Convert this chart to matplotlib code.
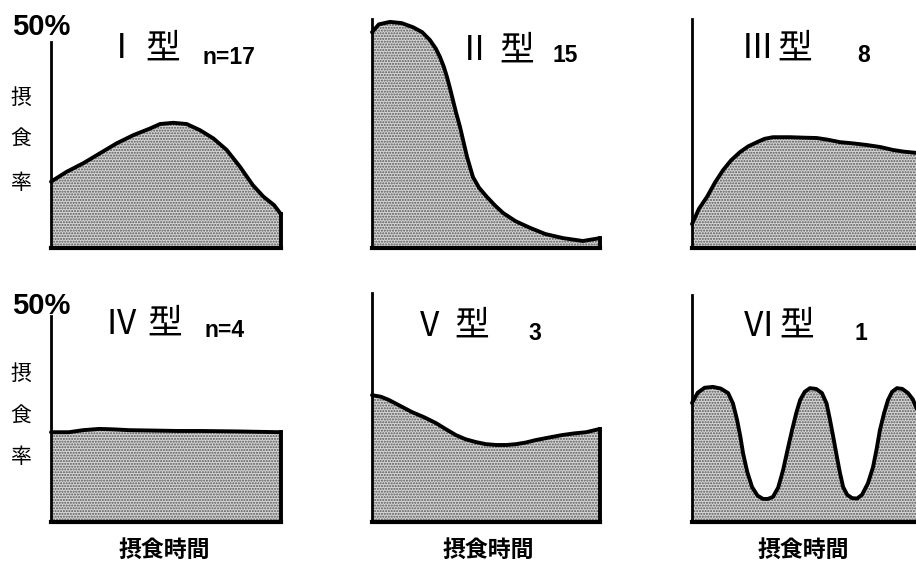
import numpy as np
import matplotlib.pyplot as plt

plt.rcParams['font.family'] = ['Noto Sans CJK JP', 'DejaVu Sans']

# feeding rate (%) over feeding time (0-100 = start to end)
x1 = [0, 6.8, 14.1, 21.3, 28.5, 35.8, 43.0, 47.4, 53.2, 59.0, 64.8, 70.6, 76.4, 82.2, 87.7, 92.3, 97.0, 100]
y1 = [16.1, 18.5, 20.6, 23.0, 25.4, 27.4, 29.0, 30.1, 30.4, 30.1, 28.6, 26.6, 23.8, 19.7, 15.3, 12.5, 10.4, 8.2]

x2 = [0, 3, 7.9, 13, 18.0, 22, 25.4, 28, 29.8, 31.5, 32.9, 34.2, 35.5, 37, 38.6, 40.2,
      41.7, 44.3, 47, 50.4, 54, 57.5, 63, 69.3, 76, 83.8, 92.5, 100]
y2 = [52.4, 54.3, 54.9, 54.6, 53.6, 52.4, 50.5, 48.4, 46.4, 44.0, 41.5, 38.8, 35.9, 32.6,
      29.4, 25.6, 22.1, 17.2, 14.6, 12.4, 10.3, 8.5, 6.5, 4.9, 3.4, 2.4, 1.7, 2.4]

x3 = [0, 3, 6.5, 10, 13.5, 17, 20.9, 24.5, 28.3, 31.5, 35.2, 42.6, 48, 54.3, 59, 64.3, 70, 76.1, 82, 87.4, 92, 97.4, 100]
y3 = [5.8, 9.5, 12.4, 15.9, 18.9, 21.3, 23.3, 24.7, 25.7, 26.5, 26.9, 26.9, 26.8, 26.7, 26.3, 25.7, 25.4, 25.0, 24.5, 23.8, 23.4, 23.1, 22.8]

x4 = [0, 7.8, 14, 20.9, 27, 34, 45, 55, 64.8, 80, 100]
y4 = [21.8, 21.8, 22.3, 22.6, 22.5, 22.3, 22.2, 22.1, 22.1, 22.0, 21.8]

x5 = [0, 4, 7.5, 12, 17.5, 23, 28.1, 32.5, 36.8, 41, 45.6, 50, 54.4, 59, 63.2, 67.5, 71.9, 77.5, 83.3, 88.5, 93.9, 100]
y5 = [30.8, 30.4, 29.6, 28.3, 26.7, 25.4, 24.0, 22.5, 21.1, 20.1, 19.4, 18.9, 18.7, 18.7, 18.9, 19.3, 19.9, 20.5, 21.1, 21.5, 21.8, 22.6]

x6 = [0, 2.5, 5.5, 9.1, 12.5, 15.7, 17.8, 19.6, 21, 22.2, 24, 26.1, 28.5, 30.9, 33, 35.2, 37.5,
      39.6, 41.5, 43.5, 45.3, 47.0, 49, 51.3, 54, 56.5, 58.5, 60.0, 61.5, 63.0, 64.3, 65.7, 67.5,
      69.6, 71.8, 73.9, 76.5, 78.7, 80.3, 81.7, 83.5, 85.2, 87, 89.1, 91.5, 93.9, 96, 97.4, 100]
y6 = [28.9, 31.4, 32.6, 32.8, 32.4, 31.3, 28.8, 24.8, 20.8, 16.7, 12.2, 8.5, 6.4, 5.6, 5.6, 6.1, 8.4,
      12.6, 17.4, 22.3, 26.4, 29.6, 31.6, 32.5, 32.3, 31.3, 28.8, 24.8, 20.4, 15.8, 12.0, 8.5, 6.6,
      5.8, 5.7, 6.6, 9.4, 13.3, 17.8, 22.3, 26.4, 29.6, 31.6, 32.5, 32.3, 31.3, 29.8, 27.9, 24.8]

xs = [x1, x2, x3, x4, x5, x6]
ys = [y1, y2, y3, y4, y5, y6]
numerals = ['Ⅰ', 'Ⅱ', 'Ⅲ', 'Ⅳ', 'Ⅴ', 'Ⅵ']
counts = ['n=17', '15', '8', 'n=4', '3', '1']

W, H = 916, 564
fig = plt.figure(figsize=(W / 100, H / 100), dpi=100)

def fx(px):
    return px / W

def fy(py):
    return 1 - py / H

# axes boxes in pixels: left, bottom (from top), width
boxes = [(51, 248, 230), (372, 248, 228), (692, 248, 230),
         (51, 522, 230), (372, 522, 228), (692, 522, 230)]
spine_top = [50, 55.6, 55.6, 50, 55.6, 55]
ytop = 55.6
ax_h = 229

for i in range(6):
    l, b, w = boxes[i]
    ax = fig.add_axes([fx(l), fy(b), w / W, ax_h / H])
    ax.set_xlim(0, 100)
    ax.set_ylim(0, ytop)
    x = np.array(xs[i])
    y = np.array(ys[i])
    ax.fill_between(x, y, 0, facecolor='#d6d6d6', edgecolor='#555555',
                    hatch='......', linewidth=0, zorder=1)
    ax.plot(x, y, color='black', lw=2.8, solid_joinstyle='round', solid_capstyle='round',
            zorder=3, clip_on=False)
    # close the shape at the right end
    ax.plot([x[-1], x[-1]], [y[-1], 0], color='black', lw=2.8, zorder=3, clip_on=False)
    for s in ['top', 'right']:
        ax.spines[s].set_visible(False)
    ax.spines['left'].set_linewidth(2.0)
    ax.spines['left'].set_bounds(0, spine_top[i])
    ax.spines['bottom'].set_linewidth(3.0)
    ax.set_xticks([])
    ax.set_yticks([])
    ax.patch.set_alpha(0)

# titles
title_pos = [(122, 163, 202, 49, 57.5), (474, 516.5, 553, 51, 55.5), (757, 795, 857, 49, 56),
             (121.5, 165, 205, 324, 330.5), (429.5, 471.5, 528, 326, 334), (759, 796.5, 855, 326, 333)]
for i in range(6):
    nx, kx, cx, ty, cy = title_pos[i]
    fig.text(fx(nx), fy(ty), numerals[i], fontsize=24, ha='center', va='center')
    fig.text(fx(kx), fy(ty), '型', fontsize=25, ha='center', va='center')
    fig.text(fx(cx), fy(cy), counts[i], fontsize=16.5, fontweight='bold',
             family=['Liberation Sans', 'DejaVu Sans'], ha='left', va='center')

# y labels
for top_y, chars_y in [(27, (98, 140, 183)), (306, (374, 417, 457))]:
    fig.text(fx(12), fy(top_y), '50%', fontsize=21, fontweight='bold',
             family=['Liberation Sans', 'DejaVu Sans'], ha='left', va='center')
    for ch, cyy in zip('摂食率', chars_y):
        fig.text(fx(21), fy(cyy), ch, fontsize=15, ha='center', va='center')

# x labels
for cxx in [164, 488, 803]:
    fig.text(fx(cxx), fy(550), '摂食時間', fontsize=16.5, fontweight='bold', ha='center', va='center')

fig.savefig('out.png', dpi=100)
